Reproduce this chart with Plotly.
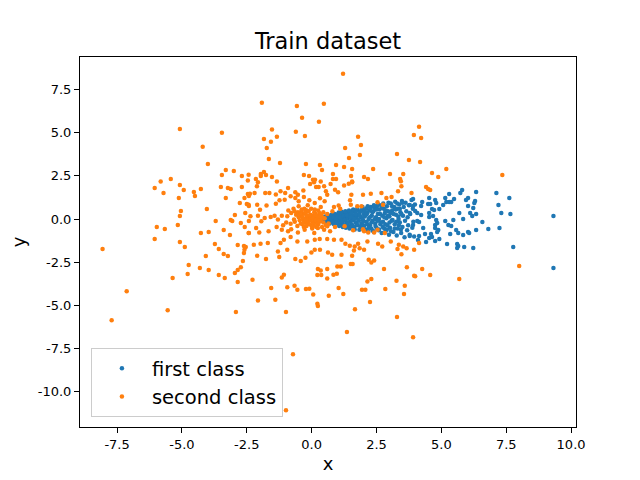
import plotly.graph_objects as go

# points, (x, y) in data units
first_core = [
    (0.3, -0.05), (0.35, 0.02), (0.4, -0.1), (0.42, 0.05), (0.45, -0.02), (0.5, 0.1), (0.5, -0.12),
    (0.55, 0.0), (0.58, -0.08), (0.6, 0.12), (0.62, -0.15), (0.65, 0.05), (0.68, -0.03), (0.7, 0.15),
    (0.72, -0.18), (0.75, 0.08), (0.78, -0.1), (0.8, 0.2), (0.82, 0.0), (0.85, -0.2), (0.88, 0.12),
    (0.9, -0.05), (0.92, 0.22), (0.95, -0.15), (0.98, 0.05), (1.0, -0.25),
    (1.02, 0.18), (1.05, -0.08), (1.08, 0.3), (1.1, -0.3), (1.12, 0.05), (1.15, 0.25), (1.18, -0.18),
    (1.2, 0.0), (1.22, 0.35), (1.25, -0.35), (1.28, 0.12), (1.3, -0.1), (1.33, 0.3), (1.35, -0.25),
    (1.38, 0.05), (1.4, 0.4), (1.42, -0.4), (1.45, 0.18), (1.48, -0.15), (1.5, 0.3), (1.52, 0.0),
    (1.55, -0.3), (1.58, 0.45), (1.6, -0.05), (1.62, 0.2), (1.65, -0.45), (1.68, 0.35), (1.7, -0.2),
    (1.72, 0.08), (1.75, 0.5), (1.78, -0.35), (1.8, 0.25), (1.82, -0.1), (1.85, 0.4), (1.88, -0.5),
    (1.9, 0.1), (1.92, -0.25), (1.95, 0.55), (1.98, -0.05), (2.0, 0.3),
    (2.02, -0.4), (2.05, 0.15), (2.08, -0.6), (2.1, 0.6), (2.12, -0.15), (2.15, 0.35), (2.18, -0.7),
    (2.2, 0.0), (2.22, 0.5), (2.25, -0.35), (2.28, 0.7), (2.3, -0.55), (2.32, 0.2), (2.35, -0.1),
    (2.38, 0.45), (2.4, -0.75), (2.42, 0.65), (2.45, -0.25), (2.48, 0.1), (2.5, -0.5), (2.52, 0.75),
    (2.55, 0.3), (2.58, -0.65), (2.6, 0.0), (2.62, 0.55), (2.65, -0.3), (2.68, 0.8), (2.7, -0.8),
    (2.72, 0.2), (2.75, -0.15), (2.78, 0.6), (2.8, -0.55), (2.82, 0.35), (2.85, -0.7), (2.88, 0.05),
    (2.9, 0.75), (2.92, -0.35), (2.95, 0.45), (2.98, -0.9), (3.0, 0.15),
    (3.02, -0.5), (3.05, 0.9), (3.08, -0.1), (3.1, 0.5), (3.15, -0.75), (3.18, 0.7), (3.2, -0.3),
    (3.22, 1.0), (3.25, 0.25), (3.28, -0.95), (3.3, 0.6), (3.32, -0.55), (3.35, 0.0), (3.38, 0.85),
    (3.4, -0.2), (3.42, 0.4), (3.45, -0.8), (3.48, 1.05), (3.5, -0.45), (3.52, 0.2), (3.55, 0.7),
    (3.58, -1.05), (3.6, -0.1), (3.62, 0.95), (3.65, 0.45), (3.68, -0.65), (3.7, 0.1), (3.72, -0.35),
    (3.75, 0.8), (3.78, -0.9), (3.8, 0.3), (3.85, 1.1), (3.88, -0.5), (3.9, 0.6), (3.92, -0.15),
    (3.95, -1.0), (3.98, 0.85),
]

first_fill = [
    (0.4, 0.08), (0.48, -0.05), (0.52, 0.15), (0.56, -0.18), (0.6, 0.02), (0.64, 0.2), (0.66, -0.1),
    (0.7, -0.25), (0.74, 0.0), (0.76, 0.25), (0.8, -0.15), (0.84, 0.1), (0.86, -0.3), (0.9, 0.3),
    (0.94, 0.0), (0.96, -0.22), (1.0, 0.15),
    (1.04, 0.38), (1.06, -0.4), (1.1, 0.1), (1.14, -0.12), (1.16, 0.42), (1.2, -0.45), (1.24, 0.2),
    (1.26, -0.05), (1.3, 0.45), (1.32, -0.5), (1.36, 0.22), (1.4, -0.18), (1.44, 0.5), (1.46, -0.55),
    (1.5, 0.1), (1.54, 0.38), (1.56, -0.42), (1.6, 0.55), (1.64, 0.0), (1.66, -0.6), (1.7, 0.28),
    (1.74, -0.3), (1.76, 0.62), (1.8, -0.05), (1.84, -0.62), (1.86, 0.18), (1.9, 0.48), (1.94, -0.4),
    (1.96, 0.7), (2.0, -0.15),
    (2.04, 0.45), (2.06, -0.65), (2.1, 0.25), (2.14, -0.3), (2.16, 0.75), (2.2, -0.5), (2.24, 0.1),
    (2.26, 0.6), (2.3, -0.2), (2.34, 0.4), (2.36, -0.68), (2.4, 0.8), (2.44, 0.0), (2.46, -0.4),
    (2.5, 0.55), (2.54, -0.1), (2.56, 0.85), (2.6, -0.6), (2.64, 0.3), (2.66, -0.2), (2.7, 0.65),
    (2.74, -0.45), (2.76, 0.9), (2.8, 0.1), (2.84, -0.3), (2.86, 0.5), (2.9, -0.6), (2.94, 0.2),
    (2.96, 0.95), (3.0, -0.2),
    (3.04, 0.35), (3.06, -0.7), (3.1, 0.75), (3.12, -0.05), (3.16, 0.3), (3.2, -0.55), (3.24, 0.55),
    (3.26, -0.15), (3.3, 0.9), (3.34, 0.15), (3.36, -0.35), (3.4, 0.6), (3.44, -0.6), (3.46, 0.3),
    (3.5, 0.95),
]

first_tail = [
    (9.32, 0.18), (9.32, -2.83), (7.77, -1.62), (7.12, 1.51), (7.62, 1.22), (7.2, 0.82), (7.31, 0.35),
    (7.66, 0.3), (7.24, -0.52), (6.81, -0.57), (6.58, -0.17), (6.34, 1.57), (5.8, 1.69), (5.73, 1.51),
    (6.03, 1.22), (5.95, 1.11), (6.3, 1.05), (6.27, 0.93), (6.03, 0.76), (6.23, 0.64), (6.11, 0.35),
    (6.34, 0.3), (6.19, 0.18), (5.69, 0.35), (5.84, 0.0), (5.46, -0.05), (5.27, -0.34), (5.38, -0.4),
    (5.15, -0.11), (5.57, -0.63), (5.65, -0.81), (5.84, -0.92), (6.03, -0.75), (6.07, -0.81),
    (6.34, -0.63), (5.34, -0.86), (5.22, -1.44), (5.61, -1.44), (5.65, -1.56), (5.61, -1.67),
    (5.88, -1.62), (6.23, -1.67), (4.92, -1.15), (4.76, -1.27), (4.41, -1.33), (4.1, -1.21),
    (4.14, -0.98), (4.37, -0.86), (4.6, -0.86), (4.64, -1.04), (4.53, -1.09), (3.78, -0.98),
    (3.91, -0.34), (4.14, -0.17), (4.3, -0.52), (4.76, -0.34), (4.84, -0.23), (4.8, -0.05),
    (4.88, -0.63), (4.84, -0.75), (4.76, -0.52), (4.68, 0.18), (4.53, 0.12), (4.07, -0.11),
    (4.07, 0.35), (3.99, 0.47), (4.22, 0.24), (3.78, 0.35), (3.91, 0.76), (3.78, 0.82), (4.22, 0.76),
    (4.26, 0.99), (4.49, 0.87), (4.57, 0.87), (4.53, 1.22), (4.76, 1.11), (4.8, 0.93), (4.64, 0.58),
    (4.72, 0.53), (4.92, 0.58), (5.07, 0.82), (5.15, 1.22), (5.3, 1.45), (5.19, 0.99), (5.3, 0.99),
    (5.38, 0.99), (5.49, 1.16), (3.91, 1.16), (4.53, 0.35),
]

second_outer = [
    (-5.08, 5.22), (-3.46, 4.99), (-4.2, 4.18), (-4.0, 3.19), (-3.31, 2.84), (-3.46, 2.55), (-3.0, 2.79),
    (-2.69, 2.5), (-2.43, 2.57), (-5.43, 2.32), (-5.82, 2.18),
    (1.21, 8.41), (-1.92, 6.73), (-0.57, 6.55), (0.47, 6.67), (-0.37, 5.86), (0.28, 5.63), (-1.53, 5.18),
    (-1.84, 4.64), (-1.34, 4.76), (-1.57, 4.47), (-0.61, 5.05), (-0.26, 4.81), (-1.73, 4.12),
    (-1.65, 3.48), (-1.22, 3.25), (-0.22, 3.19), (0.32, 3.13), (0.4, 2.84), (0.94, 3.13), (1.25, 3.02),
    (1.56, 2.9), (1.79, 4.76), (1.29, 4.12), (1.9, 4.29), (1.44, 3.54), (1.86, 3.71), (2.37, 2.9),
    (3.29, 3.77), (3.75, 3.42), (3.94, 4.87), (3.02, 2.61), (3.53, 2.61), (3.41, 2.32), (2.17, 2.32),
    (2.02, 2.44), (1.52, 2.5), (0.82, 2.61), (0.82, 2.32), (0.94, 2.32), (-0.3, 2.55), (-0.1, 2.5),
    (0.13, 2.27), (0.35, 2.17), (-2.15, 2.32), (-1.96, 2.61), (-1.96, 2.5), (-1.84, 2.73),
    (-1.76, 2.55), (-1.53, 2.44), (-1.34, 2.17), (1.56, 2.17),
    (4.14, 5.34), (4.22, 4.7), (4.18, 3.31), (4.64, 2.67), (4.88, 2.44), (5.19, 2.9), (7.35, 2.55),
    (-6.05, 1.8), (-5.71, 1.51), (-5.08, 1.98), (-4.93, 1.69), (-5.12, 1.22), (-4.54, 1.57),
    (-4.5, 1.34), (-4.27, 1.74), (-3.5, 1.86), (-3.23, 1.8), (-3.12, 1.74), (-2.69, 1.86),
    (-3.31, 1.22), (-2.46, 1.45), (-2.42, 1.34), (-2.77, 0.93), (-2.5, 0.87), (-2.42, 0.76),
    (-4.04, 0.58), (-5.04, 0.47), (-5.08, 0.18), (-2.96, 0.24), (-3.12, -0.05), (-3.06, -0.11),
    (-3.7, -0.11), (-2.73, -0.23), (-2.58, -0.46), (-2.42, -0.11), (-5.16, -0.34), (-5.97, -0.46),
    (-5.66, -0.57), (-3.39, -0.63), (-4.27, -0.81), (-3.97, -0.75), (-3.15, -0.92), (-2.42, -0.81),
    (-6.05, -1.15), (-5.08, -1.33), (-4.89, -1.62), (-3.73, -1.44), (-3.58, -1.73), (-3.39, -2.02),
    (-3.23, -2.14), (-2.85, -1.5), (-2.61, -1.56), (-2.54, -1.62), (-2.61, -1.96), (-2.65, -2.43),
    (-2.73, -2.78), (-2.85, -2.95), (-2.96, -3.12), (-2.85, -3.64), (-4.08, -2.14), (-4.74, -2.66),
    (-4.31, -2.83), (-3.97, -2.95), (-4.78, -3.18), (-3.58, -3.24), (-3.35, -3.41), (-5.36, -3.41),
    (-8.06, -1.73), (-7.13, -4.17), (-7.71, -5.85), (-5.55, -5.27), (-2.92, -5.38),
    (-0.99, -5.38), (0.24, -5.03), (1.67, -5.21), (3.29, -5.67), (1.36, -6.54), (3.91, -6.83),
    (-0.72, -7.82), (-0.99, -11.06),
    (4.41, 1.86), (4.49, 1.74), (4.57, 1.69), (4.14, -1.38), (4.26, -2.89), (3.99, -3.3),
    (4.57, -3.24), (5.69, -3.47), (8.0, -2.72),
]

second_inner = [
    (-2.46, 2.23), (-2.07, 2.13), (-2.11, 1.9), (-2.38, 1.47), (-2.2, 1.51), (-1.79, 1.51), (-1.63, 1.51),
    (-1.38, 1.43), (-1.2, 1.61), (-1.02, 1.51), (-0.91, 1.8), (-0.63, 1.55), (-0.53, 1.41), (-0.32, 1.65),
    (-0.06, 2.03), (0.09, 2.13), (0.17, 1.86), (0.27, 1.86), (0.48, 1.9), (0.55, 1.61), (0.73, 2.03),
    (0.9, 1.7), (1.02, 1.55), (1.25, 1.94), (1.43, 2.05), (1.56, 2.13), (1.53, 1.41), (1.98, 1.41),
    (2.28, 1.47), (2.69, 1.51), (2.88, 1.22), (3.08, 1.28), (3.33, 1.61), (3.46, 1.9), (3.44, 2.19),
    (3.85, 1.51), (0.05, 2.28),
    (-2.59, 1.22), (-2.43, 0.83), (-2.1, 0.83), (-1.99, 0.54), (-1.74, 0.78), (-1.38, 0.89), (-1.24, 1.09),
    (-1.04, 1.12), (-0.81, 1.32), (-0.63, 1.22), (-0.5, 1.03), (-0.3, 1.28), (-0.09, 1.09), (0.12, 0.93),
    (0.32, 1.2), (0.5, 1.03), (0.6, 1.41), (0.86, 0.7), (1.04, 0.78), (1.48, 1.09), (1.51, 0.83),
    (1.76, 0.74), (1.92, 0.74), (2.54, 0.97), (2.75, 0.83),
    (-2.56, 0.35), (-2.36, 0.16), (-2.07, 0.2), (-1.94, -0.13), (-1.81, 0.06), (-1.58, 0.12),
    (-1.43, 0.2), (-1.3, -0.03), (-1.15, 0.2), (-0.94, 0.16), (-0.79, 0.35), (-0.66, 0.45),
    (-0.53, 0.39), (-0.4, 0.45), (-0.3, 0.31), (-0.21, 0.51), (-0.14, 0.16), (-0.06, 0.06),
    (0.05, 0.2), (0.17, 0.0), (0.27, 0.12), (0.37, 0.25), (-0.33, 0.0), (-0.24, -0.19), (-0.46, -0.07),
    (-0.68, -0.03), (-0.81, -0.27), (-0.98, -0.19),
    (0.0, 0.1), (0.1, -0.1), (-0.1, 0.0), (0.2, 0.05), (-0.2, 0.1), (0.05, -0.2), (-0.05, 0.25),
    (0.15, 0.3), (-0.3, -0.1), (0.3, -0.15), (0.25, -0.3), (-0.15, -0.25), (0.4, 0.1), (-0.4, 0.2),
    (0.1, 0.4), (0.0, -0.4), (0.35, -0.05), (-0.25, 0.35), (0.45, -0.2), (0.5, 0.05), (-0.1, -0.1),
    (0.08, 0.15), (-0.05, -0.05), (0.2, -0.2), (-0.18, 0.22), (0.12, 0.28), (-0.35, -0.3),
    (0.3, 0.35), (-0.5, 0.1), (0.55, -0.35),
    (-0.45, 0.3), (-0.42, -0.25), (-0.38, 0.55), (-0.35, 0.1), (-0.3, -0.45), (-0.28, 0.6),
    (-0.22, -0.05), (-0.2, -0.4), (-0.12, 0.45), (-0.08, -0.3), (-0.02, 0.6), (0.02, -0.55),
    (0.05, 0.05), (0.08, -0.3), (0.12, 0.55), (0.15, -0.05), (0.18, -0.45), (0.22, 0.2), (0.25, 0.5),
    (0.28, -0.1), (0.32, 0.15), (-0.55, -0.4), (-0.6, 0.25), (-0.65, -0.15), (-0.7, 0.6),
    (0.4, -0.45), (0.45, 0.4), (0.6, 0.3), (0.65, -0.25), (0.8, 0.45), (-0.15, 0.8), (0.1, -0.8),
    (-0.5, 0.75), (0.35, 0.7), (-0.9, 0.5), (-1.1, -0.35), (0.9, -0.45), (1.1, 0.6),
    (-2.43, -0.81), (-2.14, -0.52), (-2.02, -0.77), (-1.66, -0.71), (-1.35, -0.46), (-1.15, -0.61),
    (-0.91, -0.71), (-0.79, -0.58), (-0.53, -0.77), (-0.27, -0.61), (0.05, -0.42), (0.24, -0.52),
    (0.48, -0.61), (0.6, -0.42), (0.71, -0.71), (1.27, -0.42), (1.6, -0.65), (2.02, -0.71),
    (2.18, -0.77), (2.41, -0.77), (2.54, -0.61), (2.82, -0.81), (1.98, -0.58),
    (-2.59, -1.77), (-2.23, -1.48), (-1.97, -1.43), (-1.69, -1.39), (-1.2, -1.39), (-1.07, -1.19),
    (-0.81, -1.04), (-0.55, -1.29), (-0.17, -1.29), (0.12, -1.19), (0.31, -1.15), (0.6, -1.15),
    (0.86, -1.19), (1.15, -1.19), (1.3, -1.43), (1.47, -1.54), (1.66, -1.58), (1.79, -1.43),
    (2.02, -1.77), (2.15, -1.29), (2.56, -1.43), (2.72, -1.58), (3.05, -1.29), (3.31, -1.73),
    (3.36, -1.48), (3.53, -1.58), (3.66, -1.68),
    (-2.1, -2.12), (-1.76, -2.31), (-1.3, -1.87), (-1.25, -2.2), (-0.94, -1.77), (-0.63, -2.31),
    (-0.42, -2.43), (-0.24, -2.24), (-0.01, -1.93), (0.12, -1.77), (0.32, -1.77), (0.63, -1.93),
    (0.79, -2.06), (1.15, -2.06), (1.56, -2.12), (1.63, -1.81), (1.85, -1.68), (2.2, -2.35),
    (2.3, -2.51), (2.41, -2.39), (3.46, -2.04), (3.95, -1.77),
    (-2.28, -3.51), (-1.15, -3.38), (-1.07, -3.22), (0.24, -2.89), (0.35, -2.97), (0.6, -2.89),
    (0.22, -3.24), (0.37, -3.24), (0.6, -3.43), (0.84, -3.22), (0.97, -3.16), (0.99, -2.74),
    (1.12, -2.74), (1.51, -2.6), (1.58, -2.6), (2.3, -3.47), (2.79, -2.89), (3.27, -3.57),
    (3.67, -2.78), (3.95, -3.28),
    (-1.56, -3.99), (-0.94, -3.94), (-0.66, -3.86), (-0.55, -4.09), (-0.22, -4.05), (-0.09, -4.03),
    (0.06, -4.36), (0.66, -4.44), (1.04, -3.99), (1.22, -4.34), (1.94, -4.09), (2.07, -4.09),
    (2.25, -4.79), (2.15, -3.61), (2.84, -4.05), (3.59, -3.86), (3.56, -4.34), (-2.07, -4.71),
    (-1.4, -4.67), (0.22, -4.9),
]

x_ticks = [-7.5, -5.0, -2.5, 0.0, 2.5, 5.0, 7.5, 10.0]
y_ticks = [-10.0, -7.5, -5.0, -2.5, 0.0, 2.5, 5.0, 7.5]

first_pts = first_core + first_fill + first_tail
second_pts = second_outer + second_inner

font = 'DejaVu Sans'

fig = go.Figure()
fig.add_trace(go.Scatter(
    x=[p[0] for p in first_pts], y=[p[1] for p in first_pts],
    mode='markers', name='first class',
    marker=dict(color='#1f77b4', size=4.5, line=dict(width=0))))
fig.add_trace(go.Scatter(
    x=[p[0] for p in second_pts], y=[p[1] for p in second_pts],
    mode='markers', name='second class',
    marker=dict(color='#ff7f0e', size=4.5, line=dict(width=0))))

axis_style = dict(
    showgrid=False, zeroline=False, showline=True, linecolor='black', linewidth=1,
    mirror=True, ticks='outside', ticklen=5, tickcolor='black', automargin=False,
    tickfont=dict(family=font, size=13, color='black'))

# the page adds an 8px body margin, so the margins are shifted to compensate
fig.update_layout(
    width=640, height=480,
    margin=dict(l=72, r=72, t=49, b=61),
    paper_bgcolor='white', plot_bgcolor='white',
    font=dict(family=font, color='black'),
    title=dict(text='Train dataset', x=0.5, xref='paper', y=0.931, yanchor='middle',
               font=dict(family=font, size=22.5, color='black')),
    xaxis=dict(range=[-8.93, 10.19], tickvals=x_ticks, ticktext=['%.1f' % v for v in x_ticks],
               title=dict(text='x', font=dict(family=font, size=18), standoff=6), **axis_style),
    yaxis=dict(range=[-12.03, 9.38], tickvals=y_ticks, ticktext=['%.1f' % v for v in y_ticks],
               title=dict(text='y', font=dict(family=font, size=18), standoff=14), **axis_style),
    legend=dict(x=0.022, y=0.027, xanchor='left', yanchor='bottom', itemwidth=50,
                bgcolor='rgba(255,255,255,0.8)', bordercolor='#cccccc', borderwidth=1,
                font=dict(family=font, size=19.5, color='black')),
    showlegend=True,
)

fig.write_html("out.html")
